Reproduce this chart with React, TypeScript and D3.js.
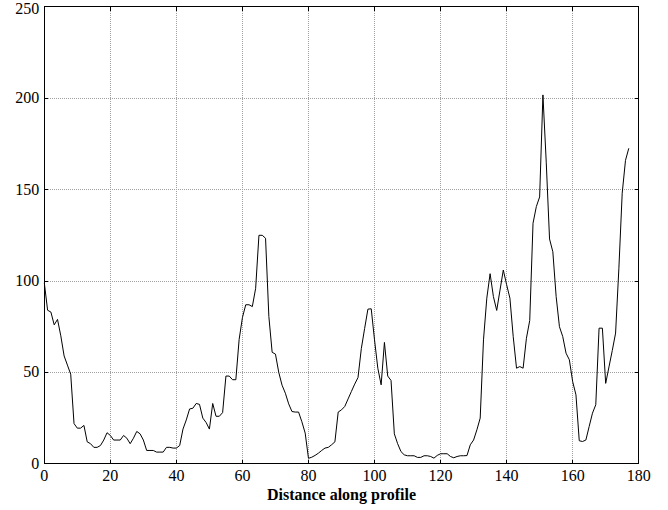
import React from "react";
import * as d3 from "d3";

// Profile samples, one per unit distance starting at 0
const profileValues: number[] = [
  99, 84, 83, 76, 79, 70, 59, 54, 49, 22,
  19.5, 19.5, 21, 12, 11, 9, 9, 10, 13, 17,
  15.5, 13, 13, 13, 15.5, 14, 11, 14, 17.7, 16.4,
  13, 7.3, 7.3, 7.3, 6.4, 6.4, 6.4, 9, 9, 8.6,
  8.6, 10, 19, 24, 30, 30.4, 33, 32.5, 25, 22.6,
  19, 33, 26, 26, 28, 48, 48, 46, 46, 68,
  80, 87, 87, 86, 96, 125, 125, 123.4, 80.6, 61,
  60, 50, 43, 38.6, 32.8, 28.6, 28.3, 28.3, 23, 16.8,
  3, 3.6, 4.6, 5.8, 7.3, 8.6, 9, 10.4, 12, 28.3,
  29.5, 31.4, 35.5, 39.6, 43.6, 47.2, 63, 74, 84.6, 84.8,
  67.8, 52.3, 43.2, 66.4, 48, 45.6, 16.4, 11, 6.7, 4.9,
  4.4, 4.4, 4.4, 3.5, 3.5, 4.4, 4.4, 4, 3.1, 4.6,
  5.5, 5.5, 5.5, 4, 3.3, 4, 4.4, 4.4, 4.5, 10.4,
  13, 18.6, 25, 67.8, 90.6, 104, 91.5, 83.9, 95, 106,
  98, 90.6, 69.6, 52.3, 53.2, 52.3, 68.7, 78.4, 131.6, 140.7,
  146, 201.8, 165, 123, 116, 91.5, 75, 69.6, 60.5, 56.9,
  45, 37.7, 12.6, 12.2, 13, 20.4, 27.7, 32.3, 74.2, 74.2,
  44, 53, 62, 71.5, 107, 148, 166, 172.6,
];

const xTicks: number[] = [0, 20, 40, 60, 80, 100, 120, 140, 160, 180];
const yTicks: number[] = [0, 50, 100, 150, 200, 250];
const xAxisTitle = "Distance along profile";

const W = 668;
const H = 510;
const margin = { left: 44.3, right: 668 - 638.7, top: 6.8, bottom: 510 - 463.8 };

export default function App() {
  const x = d3
    .scaleLinear()
    .domain([0, 180])
    .range([margin.left, W - margin.right]);
  const y = d3
    .scaleLinear()
    .domain([0, 250])
    .range([H - margin.bottom, margin.top]);

  const line = d3
    .line<number>()
    .x((_, i) => x(i))
    .y((d) => y(d));

  const x0 = x(0);
  const x1 = x(180);
  const y0 = y(0);
  const y1 = y(250);
  const tickLen = 4;
  const font = "'Liberation Serif', 'Times New Roman', serif";

  return (
    <svg
      width={W}
      height={H}
      style={{ position: "absolute", left: 0, top: 0, display: "block", background: "#fff" }}
    >
      <rect x={0} y={0} width={W} height={H} fill="#fff" />

      {/* grid */}
      <g stroke="#a0a0a0" strokeWidth={1} strokeDasharray="1 1" shapeRendering="crispEdges">
        {xTicks.slice(1, -1).map((t) => (
          <line key={"gx" + t} x1={x(t)} x2={x(t)} y1={y0} y2={y1} />
        ))}
        {yTicks.slice(1, -1).map((t) => (
          <line key={"gy" + t} x1={x0} x2={x1} y1={y(t)} y2={y(t)} />
        ))}
      </g>

      {/* profile line */}
      <path d={line(profileValues) ?? ""} fill="none" stroke="#000" strokeWidth={1} strokeLinejoin="round" />

      {/* ticks on all four sides, pointing inward */}
      <g stroke="#000" strokeWidth={1} shapeRendering="crispEdges">
        {xTicks.map((t) => (
          <g key={"tx" + t}>
            <line x1={x(t)} x2={x(t)} y1={y0} y2={y0 - tickLen} />
            <line x1={x(t)} x2={x(t)} y1={y1} y2={y1 + tickLen} />
          </g>
        ))}
        {yTicks.map((t) => (
          <g key={"ty" + t}>
            <line x1={x0} x2={x0 + tickLen} y1={y(t)} y2={y(t)} />
            <line x1={x1} x2={x1 - tickLen} y1={y(t)} y2={y(t)} />
          </g>
        ))}
      </g>

      {/* axes box */}
      <rect
        x={x0}
        y={y1}
        width={x1 - x0}
        height={y0 - y1}
        fill="none"
        stroke="#000"
        strokeWidth={1}
        shapeRendering="crispEdges"
      />

      {/* tick labels */}
      <g fontFamily={font} fontSize={16} fill="#000">
        {xTicks.map((t) => (
          <text key={"lx" + t} x={x(t)} y={y0 + 17} textAnchor="middle">
            {t}
          </text>
        ))}
        {yTicks.map((t) => (
          <text key={"ly" + t} x={x0 - 5} y={Math.max(y(t) + 5, 14)} textAnchor="end">
            {t}
          </text>
        ))}
      </g>

      <text
        x={(x0 + x1) / 2}
        y={500}
        textAnchor="middle"
        fontFamily={font}
        fontSize={16}
        fontWeight="bold"
        fill="#000"
      >
        {xAxisTitle}
      </text>
    </svg>
  );
}
